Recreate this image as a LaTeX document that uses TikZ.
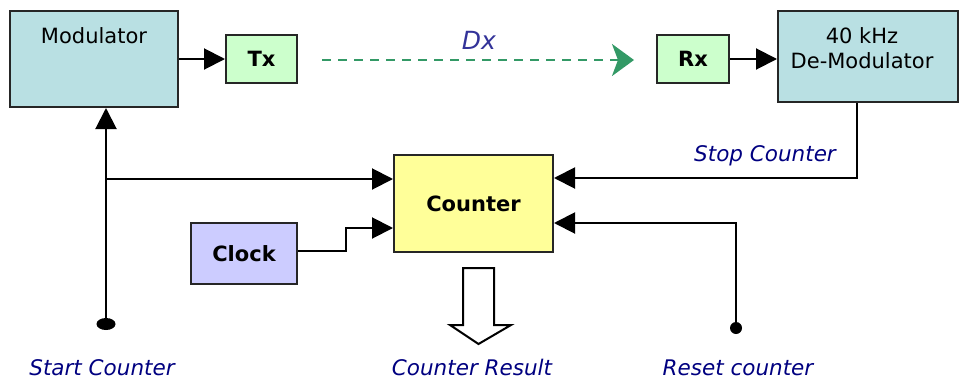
\documentclass[tikz,border=0pt]{standalone}
\usepackage{fontspec}
\setmainfont{DejaVu Sans}
\usetikzlibrary{arrows.meta}
\definecolor{modfill}{HTML}{B9E0E3}
\definecolor{txfill}{HTML}{CCFFCC}
\definecolor{cntfill}{HTML}{FFFF99}
\definecolor{clkfill}{HTML}{CCCCFF}
\definecolor{linkgreen}{HTML}{339966}
\definecolor{dxblue}{HTML}{333399}
\definecolor{tagblue}{HTML}{000080}
\tikzset{
  block/.style={draw=black!85, line width=2pt, inner sep=0pt, rectangle},
  boxtext/.style={inner sep=0pt, font=\fontsize{21}{25}\selectfont},
  boldtext/.style={inner sep=0pt, font=\fontsize{21}{25}\selectfont\bfseries},
  tag/.style={inner sep=0pt, text=tagblue, font=\fontsize{21.5}{25}\selectfont\itshape},
  wire/.style={line width=2pt, draw=black},
  feed/.style={wire, -{Triangle[length=21pt,width=21pt]}},
}
\begin{document}
\begin{tikzpicture}[x=1pt, y=-1pt]
\useasboundingbox (0,0) rectangle (960,383);

% blocks
\node[block, fill=modfill, minimum width=168pt, minimum height=96pt] (mod) at (94,59) {};
\node[boxtext] at (94,36) {Modulator};
\node[block, fill=txfill, minimum width=71pt, minimum height=48pt, boldtext] (tx) at (261.5,59) {Tx};
\node[block, fill=txfill, minimum width=72pt, minimum height=48pt, boldtext] (rx) at (693,59) {Rx};
\node[block, fill=modfill, minimum width=180pt, minimum height=91pt] (dem) at (868,56.5) {};
\node[boxtext, align=center] at (862,48.5) {40 kHz\\[0pt]De-Modulator};
\node[block, fill=cntfill, minimum width=159pt, minimum height=97pt, boldtext] (cnt) at (473.5,203.5) {Counter};
\node[block, fill=clkfill, minimum width=106pt, minimum height=61pt, boldtext] (clk) at (244,253.5) {Clock};

% wireless link
\coordinate (lnkA) at (322,60);
\coordinate (lnkB) at (634,60);
\draw[line width=2.6pt, linkgreen, dash pattern=on 9pt off 7pt,
      -{Stealth[length=22pt,width=32pt,inset=6pt]}] (lnkA) -- (lnkB);
\node[inner sep=0pt, text=dxblue, font=\fontsize{25}{30}\selectfont\itshape] (dx) at (479,40) {Dx};

% signal path
\draw[feed] (mod.east |- tx.west) -- (tx.west);
\draw[feed] (rx.east) -- (dem.west |- rx.east);

% start counter
\coordinate (sdot) at (106,324);
\coordinate (sbr) at (106,179);
\fill (sdot) ellipse [x radius=9.5pt, y radius=6pt];
\draw[feed] (sdot) -- (sdot |- mod.south);
\draw[feed] (sbr) -- (cnt.west |- sbr);

% clock into counter
\coordinate (ck1) at (346,251);
\coordinate (ck2) at (346,228);
\draw[feed] (clk.east |- ck1) -- (ck1) -- (ck2) -- (cnt.west |- ck2);

% stop counter
\coordinate (st1) at (857,178);
\draw[feed] (st1 |- dem.south) -- (st1) -- (cnt.east |- st1);
\node[tag] (stop) at (765,156) {Stop Counter};

% reset counter
\coordinate (rdot) at (736,328);
\coordinate (rs1) at (736,223);
\fill (rdot) circle [radius=6pt];
\draw[feed] (rdot) -- (rs1) -- (cnt.east |- rs1);

% result output (hollow arrow)
\draw[line width=2pt, fill=white, line join=miter]
  (463,268) -- (494,268) -- (494,325) -- (511,325) -- (478.5,344)
  -- (450,325) -- (463,325) -- cycle;

% bottom tags
\node[tag] (tstart) at (102,368) {Start Counter};
\node[tag] (tres) at (472,367) {Counter Result};
\node[tag] (trst) at (738,368) {Reset counter};
\end{tikzpicture}
\end{document}
